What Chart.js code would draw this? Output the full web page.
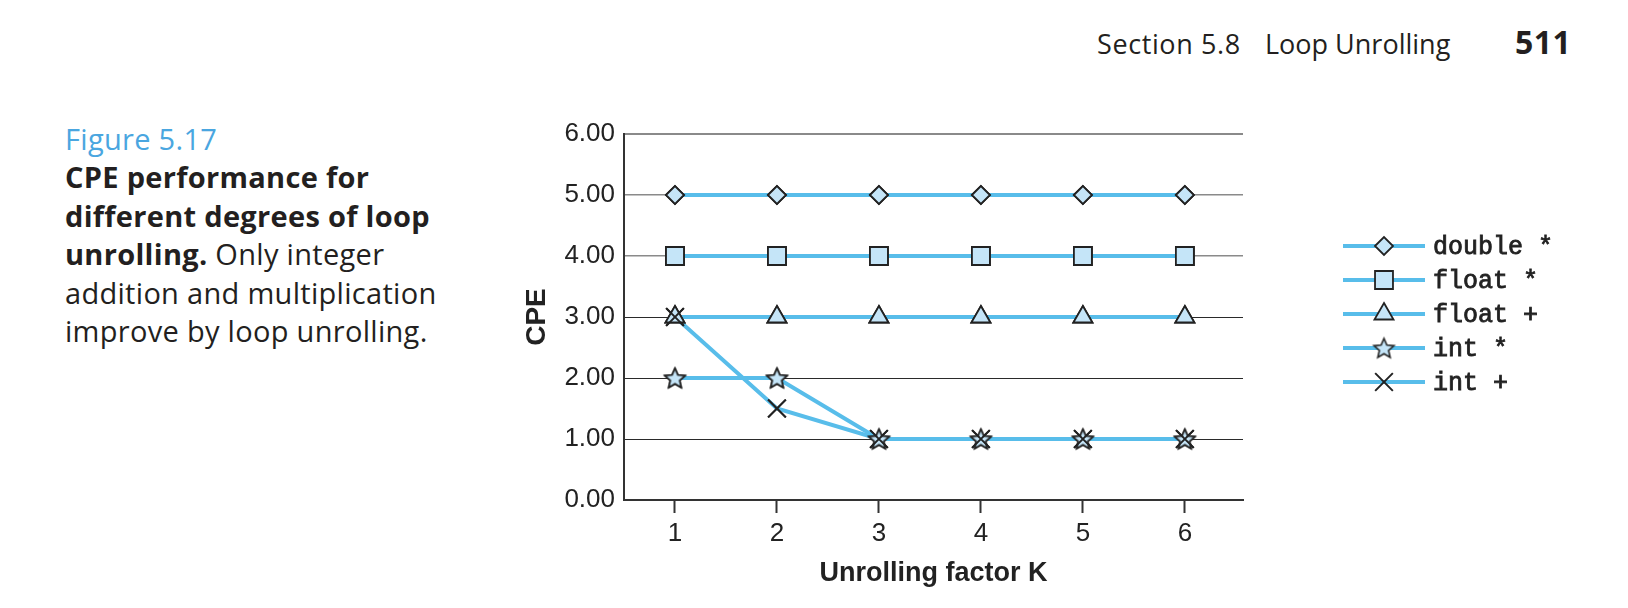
<!DOCTYPE html>
<html>
<head>
<meta charset="utf-8">
<title>Figure 5.17 - CPE vs loop unrolling</title>
<script src="https://cdn.jsdelivr.net/npm/chart.js"></script>
<style>
  html, body { margin: 0; padding: 0; background: #fff; }
  body { width: 1628px; height: 608px; position: relative; overflow: hidden;
         font-family: "Open Sans", "Noto Sans", sans-serif; color: #231f20; }
  #head { position: absolute; left: 1097px; top: 28px; font-size: 27px; line-height: 27px; white-space: nowrap; }
  #head span { display: inline-block; }
  #head .sec { letter-spacing: 0.6px; }
  #head .num { font-weight: 700; font-size: 32px; letter-spacing: 0.5px; }
  #caption { position: absolute; left: 65px; top: 120px; font-size: 29px; line-height: 38.4px;
             letter-spacing: 0.3px; white-space: nowrap; }
  #caption .fig { color: #4aa6e0; }
  #caption b { font-weight: 700; }
  #chartBox { position: absolute; left: 480px; top: 100px; width: 1148px; height: 508px; }
</style>
</head>
<body>
<div id="head"><span class="sec" style="width:168px">Section 5.8</span><span style="width:250px">Loop Unrolling</span><span class="num">511</span></div>

<div id="caption">
  <span class="fig">Figure 5.17</span><br>
  <b>CPE performance for</b><br>
  <b>different degrees of loop</b><br>
  <b>unrolling.</b> Only integer<br>
  addition and multiplication<br>
  improve by loop unrolling.
</div>

<div id="chartBox"><canvas id="cpeChart" width="1148" height="508"></canvas></div>

<script>
// data
const unrollK = [1, 2, 3, 4, 5, 6];
const doubleMul = [5.00, 5.00, 5.00, 5.00, 5.00, 5.00];
const floatMul = [4.00, 4.00, 4.00, 4.00, 4.00, 4.00];
const floatAdd = [3.00, 3.00, 3.00, 3.00, 3.00, 3.00];
const intMul = [2.00, 2.00, 1.00, 1.00, 1.00, 1.00];
const intAdd = [3.00, 1.50, 1.00, 1.00, 1.00, 1.00];
const seriesNames = ["double *", "float *", "float +", "int *", "int +"];
const yTicks = [0, 1, 2, 3, 4, 5, 6];

const lineColor = "#58bdea";
const markFill = "#c5e5f8";
const markEdge = "#222222";
const axisFont = "'Liberation Sans', Arial, sans-serif";

// Chart.js has no 5 point star, so build one as an image
function makeStar(r) {
  const size = Math.ceil(r * 2 + 6);
  const c = document.createElement("canvas");
  c.width = size;
  c.height = size;
  const g = c.getContext("2d");
  const cx = size / 2, cy = size / 2 + r * 0.09;
  g.beginPath();
  for (let i = 0; i < 10; i++) {
    const rr = i % 2 === 0 ? r : r * 0.46;
    const a = -Math.PI / 2 + i * Math.PI / 5;
    const px = cx + Math.cos(a) * rr, py = cy + Math.sin(a) * rr;
    if (i === 0) g.moveTo(px, py); else g.lineTo(px, py);
  }
  g.closePath();
  g.fillStyle = markFill;
  g.fill();
  g.lineWidth = 1.6;
  g.strokeStyle = markEdge;
  g.stroke();
  return c;
}
const starImg = makeStar(10.5);

function pts(ys) {
  return unrollK.map((k, i) => ({ x: k, y: ys[i] }));
}

function series(name, ys, style, radius) {
  return {
    label: name,
    data: pts(ys),
    borderColor: lineColor,
    borderWidth: 4,
    pointStyle: style,
    pointRadius: radius,
    pointBackgroundColor: markFill,
    pointBorderColor: markEdge,
    pointBorderWidth: style === "crossRot" ? 2 : 1.8,
    tension: 0
  };
}

// draw all markers again so every line stays behind them
const pointsOnTop = {
  id: "pointsOnTop",
  afterDatasetsDraw(chart) {
    const ctx = chart.ctx;
    chart.data.datasets.forEach((ds, i) => {
      chart.getDatasetMeta(i).data.forEach(p => p.draw(ctx, chart.chartArea));
    });
  }
};

// legend with a line through the marker, like the book figure
const legendX = 863, legendY = 146, legendStep = 34;
const sideLegend = {
  id: "sideLegend",
  afterDraw(chart) {
    const ctx = chart.ctx;
    chart.data.datasets.forEach((ds, i) => {
      const y = legendY + i * legendStep;
      ctx.save();
      ctx.strokeStyle = lineColor;
      ctx.lineWidth = 4;
      ctx.beginPath();
      ctx.moveTo(legendX, y);
      ctx.lineTo(legendX + 82, y);
      ctx.stroke();
      ctx.fillStyle = ds.pointBackgroundColor;
      ctx.strokeStyle = ds.pointBorderColor;
      ctx.lineWidth = ds.pointBorderWidth;
      Chart.helpers.drawPoint(ctx, {
        pointStyle: ds.pointStyle, radius: ds.pointRadius, rotation: 0, borderWidth: ds.pointBorderWidth
      }, legendX + 41, y);
      // courier-ish text, a little heavier than regular
      ctx.font = "25px 'Liberation Mono', 'Courier New', monospace";
      ctx.textBaseline = "middle";
      ctx.textAlign = "left";
      ctx.fillStyle = "#222";
      ctx.strokeStyle = "#222";
      ctx.lineWidth = 0.8;
      ctx.fillText(ds.label, legendX + 90, y + 1);
      ctx.strokeText(ds.label, legendX + 90, y + 1);
      ctx.restore();
    });
  }
};

const cpeChart = new Chart(document.getElementById("cpeChart").getContext("2d"), {
  type: "line",
  data: {
    datasets: [
      series(seriesNames[0], doubleMul, "rectRot", 9),
      series(seriesNames[1], floatMul, "rect", 12.7),
      series(seriesNames[2], floatAdd, "triangle", 11),
      series(seriesNames[3], intMul, starImg, 10),
      series(seriesNames[4], intAdd, "crossRot", 12.5)
    ]
  },
  options: {
    responsive: false,
    animation: false,
    devicePixelRatio: 1,
    layout: { padding: { top: 34, right: 385, bottom: 0, left: 0 } },
    plugins: {
      legend: { display: false },
      tooltip: { enabled: false }
    },
    scales: {
      x: {
        type: "linear",
        min: 0.5,
        max: 6.57,
        afterBuildTicks: s => { s.ticks = unrollK.map(v => ({ value: v })); },
        afterFit: s => { s.height = 108; },
        grid: { drawOnChartArea: false, drawTicks: true, tickLength: 13, tickWidth: 2, tickColor: "#333" },
        border: { color: "#333", width: 2 },
        ticks: { color: "#222", font: { family: axisFont, size: 26 }, padding: 5, maxRotation: 0,
                 callback: v => String(v) },
        title: { display: true, text: "Unrolling factor K", color: "#222",
                 font: { family: axisFont, size: 27, weight: "bold" }, padding: { top: 0, bottom: 18 } }
      },
      y: {
        min: 0,
        max: 6,
        afterBuildTicks: s => { s.ticks = yTicks.map(v => ({ value: v })); },
        afterFit: s => { s.width = 144; },
        grid: {
          drawTicks: false,
          color: c => (c.tick && c.tick.value >= 4 ? "#8a8a8a" : "#2a2a2a"),
          lineWidth: c => (c.tick && c.tick.value === 6 ? 2 : (c.tick && c.tick.value >= 4 ? 1.5 : 1))
        },
        border: { color: "#333", width: 2 },
        ticks: { color: "#222", font: { family: axisFont, size: 26 }, padding: 9,
                 callback: v => v.toFixed(2) },
        title: { display: true, text: "CPE", color: "#222",
                 font: { family: axisFont, size: 28, weight: "bold" }, padding: { top: 40, bottom: 0 } }
      }
    }
  },
  plugins: [pointsOnTop, sideLegend]
});
</script>
</body>
</html>
